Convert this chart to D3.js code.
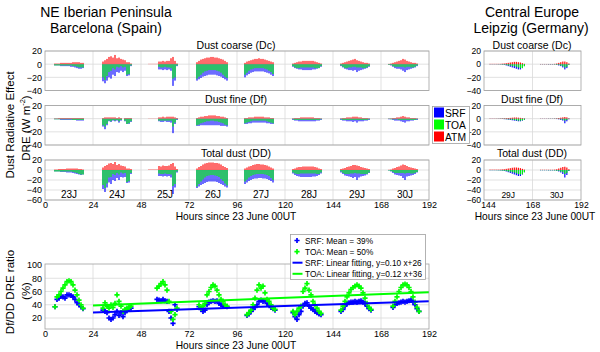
<!DOCTYPE html>
<html>
<head>
<meta charset="utf-8">
<script src="https://cdn.jsdelivr.net/npm/d3@7"></script>
<style>
  body { margin: 0; background: #fff; }
  text { font-family: "Liberation Sans", Arial, sans-serif; fill: #000; }
</style>
</head>
<body>
<svg id="chart" width="600" height="352"></svg>
<script>

//******************************************************************************
//**  Data
//******************************************************************************

  // Barcelona, one bar per hour, first hour of each day in bcnStart
    var bcnDays  = ["23J","24J","25J","26J","27J","28J","29J","30J"];
    var bcnNoon  = [12, 36, 60, 84, 108, 132, 156, 180];
    var bcnStart = [5, 29, 52, 76, 100, 124, 148, 172];

    var bcnDcSRF = [
        [-2,-2,-2,-3,-3,-3,-3,-3,-4,-4,-5,-6,-7,-7,-6],
        [-26,-29,-25,-20,-22,-16,-18,-12,-13,-10,-12,-10,-18,-17,-3],
        [0,0,0,0,0,-8,-8,-9,-8,-9,-8,-10,-33,-25,-3],
        [-25,-23,-21,-19,-18,-17,-16,-16,-16,-16,-17,-18,-19,-21,-23,-25],
        [-20,-17,-15,-13,-12,-11,-11,-11,-11,-11,-12,-13,-14,-16,-18],
        [-4,-6,-7,-8,-8,-9,-9,-9,-9,-9,-8,-8,-7,-6,-4],
        [-3,-5,-7,-8,-9,-9,-10,-9,-12,-10,-9,-8,-7,-6,-4],
        [-1,-2,-4,-6,-7,-7,-8,-10,-12,-9,-8,-7,-6,-5,-3]
    ];
    var bcnDcTOA = [
        [-2,-2,-2,-2,-2,-2,-2,-2,-2,-3,-3,-4,-5,-5,-5],
        [-20,-24,-18,-12,-10,-6,-8,-4,-5,-3,-5,-4,-16,-15,-2],
        [0,0,0,0,0,-4,-5,-5,-4,-5,-5,-6,-22,-20,-2],
        [-22,-19,-16,-13,-11,-10,-9,-9,-9,-9,-10,-11,-13,-16,-19,-21],
        [-16,-13,-10,-8,-7,-6,-6,-6,-6,-6,-7,-8,-10,-12,-15],
        [-3,-5,-6,-6,-5,-5,-5,-5,-5,-5,-5,-6,-6,-6,-3],
        [-2,-4,-6,-6,-5,-5,-4,-4,-5,-5,-5,-6,-6,-5,-3],
        [-1,-1,-3,-4,-4,-4,-4,-4,-5,-4,-4,-5,-5,-4,-2]
    ];
    var bcnDcATM = [
        [1,1,1,2,2,2,2,2,2,3,3,3,3,2,2],
        [4,6,8,11,12,10,14,9,10,8,7,6,3,3,1],
        [0.5,0.5,0.5,0.5,0.5,4,4,5,4,5,5,9,11,5,1],
        [3,5,7,8,9,10,10,11,11,10,10,9,8,7,5,3],
        [2,4,5,6,7,8,8,9,8,8,7,6,5,4,3],
        [1,2,3,4,4,5,5,5,5,5,5,4,3,2,1],
        [1,2,3,4,5,6,7,8,6,5,4,3,2,2,1],
        [0.5,1,2,3,4,5,6,8,7,5,4,3,2,2,1]
    ];

    var bcnDfSRF = [
        [-1,-1,-1,-2,-2,-2,-2,-2,-2,-2,-2,-3,-3,-3,-3],
        [-12,-16,-10,-4,-5,-3,-4,-3,-6,-3,0,-4,-8,-8,-5],
        [0,0,0,0,0,-4,-5,-5,-4,-5,-5,-6,-22,-8,-2],
        [-11,-11,-10,-10,-10,-10,-10,-10,-10,-10,-10,-10,-11,-11,-11,-12],
        [-8,-8,-7,-7,-6,-6,-6,-6,-6,-6,-6,-7,-7,-8,-8],
        [-2,-3,-3,-4,-4,-4,-4,-4,-4,-4,-4,-4,-3,-3,-2],
        [-2,-3,-3,-4,-4,-4,-5,-4,-6,-4,-4,-4,-3,-3,-2],
        [-1,-1,-2,-3,-3,-3,-4,-5,-6,-4,-4,-3,-3,-2,-2]
    ];
    var bcnDfTOA = [
        [-1,-1,-1,-1,-1,-1,-1,-1,-1,-2,-2,-2,-2,-2,-2],
        [-10,-12,-8,-3,-4,-2,-3,-2,-4,-2,0,-3,-8,-7,-4],
        [0,0,0,0,0,-3,-3,-3,-3,-3,-3,-3,-12,-6,-1],
        [-10,-9,-7,-6,-5,-4,-4,-3,-3,-4,-4,-5,-6,-7,-9,-10],
        [-7,-6,-5,-4,-3,-3,-3,-3,-3,-3,-3,-4,-5,-6,-7],
        [-1,-2,-2,-2,-2,-2,-2,-2,-2,-2,-2,-2,-2,-2,-1],
        [-1,-2,-2,-2,-2,-2,-2,-2,-2,-2,-2,-2,-2,-2,-1],
        [-0.5,-1,-1,-1,-1,-2,-2,-2,-2,-2,-2,-2,-2,-2,-1]
    ];
    var bcnDfATM = [
        [0.5,0.5,1,1,1,1,1,1,1,1,1,1,1,1,1],
        [1,2,2,2,2,2,2,1,2,1,0,1,1,1,1],
        [0.3,0.3,0.3,0.3,0.3,2,2,3,2,3,3,3,3,2,1],
        [1,2,3,3,4,4,5,5,5,5,4,4,3,3,2,1],
        [1,1,2,2,2,3,3,3,3,3,2,2,2,1,1],
        [0.5,1,1,1,2,2,2,2,2,2,2,1,1,1,0.5],
        [0.5,1,1,2,2,2,3,3,3,2,2,1,1,1,0.5],
        [0.3,0.5,1,1,2,2,3,4,3,2,2,1,1,1,0.5]
    ];

    var bcnDdSRF = [
        [-3,-3,-3,-4,-4,-4,-5,-5,-5,-6,-7,-8,-9,-10,-9],
        [-38,-44,-35,-25,-28,-20,-22,-16,-20,-14,-15,-14,-26,-25,-8],
        [0,0,0,0,0,-12,-12,-13,-12,-13,-12,-15,-48,-35,-5],
        [-36,-33,-30,-28,-26,-24,-23,-23,-23,-23,-24,-26,-28,-30,-33,-35],
        [-28,-25,-22,-20,-18,-17,-17,-16,-16,-17,-17,-18,-20,-22,-25],
        [-7,-10,-12,-13,-14,-14,-14,-14,-14,-14,-13,-13,-12,-10,-7],
        [-5,-8,-11,-12,-13,-14,-16,-14,-20,-15,-13,-12,-11,-9,-6],
        [-1,-3,-6,-9,-10,-11,-12,-16,-20,-13,-12,-11,-10,-8,-5]
    ];
    var bcnDdTOA = [
        [-3,-3,-3,-3,-3,-3,-3,-3,-3,-4,-5,-6,-8,-9,-9],
        [-30,-36,-27,-15,-14,-8,-10,-6,-9,-5,-7,-6,-24,-22,-6],
        [0,0,0,0,0,-7,-8,-8,-7,-8,-8,-9,-32,-28,-3],
        [-33,-28,-23,-19,-15,-12,-11,-10,-10,-11,-12,-14,-18,-22,-27,-31],
        [-23,-19,-15,-12,-10,-9,-8,-8,-8,-8,-9,-10,-12,-16,-20],
        [-5,-7,-8,-8,-7,-7,-7,-7,-7,-7,-7,-7,-8,-8,-5],
        [-3,-6,-8,-8,-8,-7,-7,-6,-7,-7,-8,-8,-8,-8,-5],
        [-1,-2,-4,-6,-6,-6,-6,-6,-7,-6,-6,-7,-7,-6,-4]
    ];
    var bcnDdATM = [
        [1,1,2,2,2,2,3,3,3,3,3,3,2,2,1],
        [5,8,10,13,14,12,16,10,12,9,8,7,3,3,2],
        [1,1,1,1,1,8,7,9,8,8,9,12,14,7,2],
        [3,6,8,11,13,14,15,15,15,14,14,13,11,8,6,4],
        [3,5,7,8,10,11,12,12,11,11,10,9,7,5,3],
        [2,3,5,6,6,7,7,7,7,7,7,6,5,3,2],
        [2,3,4,6,7,8,10,10,9,8,6,5,4,3,2],
        [0.5,1,3,4,6,7,9,11,10,8,6,5,4,3,2]
    ];

  // Leipzig
    var lpzDays  = ["29J","30J"];
    var lpzNoon  = [156, 180];
    var lpzStart = [147, 172];

    var lpzDcSRF = [
        [-0.3,-0.3,-0.3,-0.3,-0.4,-0.5,-0.8,-1,-2,-3,-4,-5,-6,-7,-8,-8,-6,-3],
        [-0.3,-0.3,-0.3,-0.3,-0.5,-0.5,-0.5,-0.5,-1,-2,-3,-5,-8,-6,-1]
    ];
    var lpzDcTOA = [
        [-0.2,-0.2,-0.2,-0.2,-0.3,-0.4,-0.6,-0.8,-1,-2,-2,-3,-3,-4,-5,-6,-6,-3],
        [-0.2,-0.2,-0.2,-0.2,-0.3,-0.3,-0.3,-0.5,-0.8,-1,-2,-3,-5,-4,-1]
    ];
    var lpzDcATM = [
        [0.5,0.5,0.5,0.5,0.5,0.5,0.8,1,1.5,2,2.5,3,3.5,3.5,3,2.5,1.5,0.5],
        [0.3,0.3,0.3,0.3,0.3,0.3,0.3,0.5,1,2,3,4,4,3,1]
    ];
    var lpzDfSRF = [
        [-0.2,-0.2,-0.2,-0.2,-0.3,-0.4,-0.5,-0.8,-1,-1.5,-2,-2.5,-3,-3.5,-4,-4,-3,-1.5],
        [-0.2,-0.2,-0.2,-0.2,-0.3,-0.3,-0.3,-0.4,-0.6,-1,-2,-3,-7,-4,-1]
    ];
    var lpzDfTOA = [
        [-0.1,-0.1,-0.1,-0.2,-0.2,-0.3,-0.4,-0.5,-0.8,-1,-1.2,-1.5,-2,-2.5,-3,-3,-2.5,-1.5],
        [-0.1,-0.1,-0.1,-0.1,-0.2,-0.2,-0.2,-0.3,-0.4,-0.6,-1,-1.5,-3,-2,-0.5]
    ];
    var lpzDfATM = [
        [0.3,0.3,0.3,0.3,0.3,0.4,0.5,0.6,0.8,1,1.2,1.5,1.8,1.8,1.5,1.2,0.8,0.3],
        [0.2,0.2,0.2,0.2,0.2,0.2,0.2,0.3,0.5,1,1.5,2,2.5,2,0.5]
    ];
    var lpzDdSRF = [
        [-0.5,-0.5,-0.5,-0.5,-0.7,-0.9,-1.3,-1.8,-3,-4.5,-6,-7.5,-9,-10.5,-12,-12,-9,-4.5],
        [-0.5,-0.5,-0.5,-0.5,-0.8,-0.8,-0.8,-0.9,-1.6,-3,-5,-8,-15,-10,-2]
    ];
    var lpzDdTOA = [
        [-0.3,-0.3,-0.3,-0.4,-0.5,-0.7,-1,-1.3,-1.8,-3,-3.2,-4.5,-5,-6.5,-8,-9,-8.5,-4.5],
        [-0.3,-0.3,-0.3,-0.3,-0.5,-0.5,-0.5,-0.8,-1.2,-1.6,-3,-4.5,-8,-6,-1.5]
    ];
    var lpzDdATM = [
        [0.8,0.8,0.8,0.8,0.8,0.9,1.3,1.6,2.3,3,3.7,4.5,5,5,4.5,3.7,2.3,0.8],
        [0.5,0.5,0.5,0.5,0.5,0.5,0.5,0.8,1.5,3,4.5,6,6.5,5,1.5]
    ];

  // Df/DD ratio (%), one point per hour
    var ratioStart = [5, 29, 56, 77, 101, 124, 148, 174];
    var ratioSRF = [
        [37,48,50,53,52,50,55,55,54,52,48,43,40,37,34],
        [32,30,28,20,18,20,25,30,24,28,22,28,32,34,35],
        [48,47,46,48,46,45,30,20,12,40,33],
        [37,33,30,32,40,44,45,46,45,46,42,40,38,38,37],
        [24,26,30,33,36,40,45,47,45,46,42,40,36,34,32],
        [28,22,18,25,30,38,42,43,38,35,33,30,28,26,25],
        [30,33,38,42,43,44,44,45,44,45,46,44,42,38,34,32],
        [36,40,42,43,44,45,44,45,46,47,44,40,34,30]
    ];
    var ratioTOA = [
        [37,52,55,60,65,70,75,76,75,70,62,55,47,40,35],
        [35,43,38,35,40,36,42,55,45,38,30,33,35,36,38],
        [65,68,72,75,70,62,45,30,18,25,35],
        [40,35,38,42,55,60,66,70,68,62,55,48,45,40,38],
        [25,28,32,40,50,62,70,65,68,58,48,45,40,35,33],
        [30,25,30,35,38,60,65,72,62,55,45,40,35,30,27],
        [32,38,45,52,58,63,66,68,70,68,65,58,50,42,36,33],
        [38,45,52,60,66,70,71,70,66,60,52,44,36,30]
    ];
    var fitSRF = [0.10, 26];
    var fitTOA = [0.12, 36];
    var fitHours = [24, 192];

    var hourTicks = [0, 24, 48, 72, 96, 120, 144, 168, 192];


//******************************************************************************
//**  Chart
//******************************************************************************

    var svg = d3.select("#chart");
    var blue = "#0000ff", green = "#00ff00", red = "#ff0000";
    var gridColor = "#d9d9d9", frameColor = "#a0a0a0";
    var barWidth = 1.15;
    var fontFamily = "'Liberation Sans', Arial, sans-serif";

    var xL = d3.scaleLinear().domain([0, 192]).range([45, 429]);
    var xR = d3.scaleLinear().domain([144, 192]).range([484, 581]);

    var rows = [
        {top: 51,    bottom: 90.5, domain: [-40, 20], title: "Dust coarse (Dc)", titleY: 48.5},
        {top: 105.5, bottom: 145,  domain: [-40, 20], title: "Dust fine (Df)",   titleY: 102.5},
        {top: 160,   bottom: 200,  domain: [-60, 20], title: "Total dust (DD)",  titleY: 156.5}
    ];

    var bcnSets = [
        [bcnDcSRF, bcnDcTOA, bcnDcATM],
        [bcnDfSRF, bcnDfTOA, bcnDfATM],
        [bcnDdSRF, bcnDdTOA, bcnDdATM]
    ];
    var lpzSets = [
        [lpzDcSRF, lpzDcTOA, lpzDcATM],
        [lpzDfSRF, lpzDfTOA, lpzDfATM],
        [lpzDdSRF, lpzDdTOA, lpzDdATM]
    ];


  //**************************************************************************
  //** drawPanel
  //**************************************************************************
    var drawPanel = function(x, row, sets, starts, xTicks, fontSize){
        var y = d3.scaleLinear().domain(row.domain).range([row.bottom, row.top]);
        var x0 = x.range()[0], x1 = x.range()[1];
        var g = svg.append("g");

      //Grid
        var yTicks = d3.range(row.domain[0], row.domain[1] + 1, 20);
        g.selectAll(null).data(yTicks).enter().append("line")
            .attr("x1", x0).attr("x2", x1)
            .attr("y1", function(d){ return y(d); })
            .attr("y2", function(d){ return y(d); })
            .attr("stroke", gridColor).attr("stroke-width", 0.8);
        g.selectAll(null).data(xTicks).enter().append("line")
            .attr("x1", function(d){ return x(d); })
            .attr("x2", function(d){ return x(d); })
            .attr("y1", row.top).attr("y2", row.bottom)
            .attr("stroke", gridColor).attr("stroke-width", 0.8);

      //Bars: SRF, then TOA, then ATM on top
        var colors = [blue, green, red];
        sets.forEach(function(set, k){
            var pts = [];
            set.forEach(function(day, d){
                day.forEach(function(v, i){ pts.push({h: starts[d] + i, v: v}); });
            });
            g.selectAll(null).data(pts).enter().append("rect")
                .attr("x", function(p){ return x(p.h) - barWidth/2; })
                .attr("width", barWidth)
                .attr("y", function(p){ return y(Math.max(0, p.v)); })
                .attr("height", function(p){ return Math.abs(y(p.v) - y(0)); })
                .attr("fill", colors[k]);
        });

      //Frame
        g.append("rect")
            .attr("x", x0).attr("y", row.top)
            .attr("width", x1 - x0).attr("height", row.bottom - row.top)
            .attr("fill", "none").attr("stroke", frameColor).attr("stroke-width", 0.8);

      //Y axis labels
        var ax = g.append("g")
            .attr("transform", "translate(" + (x0 - 1) + ",0)")
            .call(d3.axisLeft(y).tickValues(yTicks).tickSize(0).tickPadding(2));
        ax.select(".domain").remove();
        ax.selectAll("text").style("font-size", fontSize + "px").style("font-family", fontFamily);

        return ax;
    };


  //**************************************************************************
  //** Barcelona and Leipzig panels
  //**************************************************************************
    rows.forEach(function(row, r){
        drawPanel(xL, row, bcnSets[r], bcnStart, hourTicks.slice(1, -1), 9);
        svg.append("text").attr("x", 236).attr("y", row.titleY)
            .attr("text-anchor", "middle").style("font-size", "10.5px").text(row.title);
    });

    rows.forEach(function(row, r){
        drawPanel(xR, row, lpzSets[r], lpzStart, [168], 8.6);
        svg.append("text").attr("x", 532).attr("y", row.titleY)
            .attr("text-anchor", "middle").style("font-size", "10.5px").text(row.title);
    });

  //Day labels inside the total dust panels
    svg.selectAll(null).data(bcnDays).enter().append("text")
        .attr("x", function(d, i){ return xL(bcnNoon[i]); })
        .attr("y", 198).attr("text-anchor", "middle")
        .style("font-size", "10px").text(function(d){ return d; });
    svg.selectAll(null).data(lpzDays).enter().append("text")
        .attr("x", function(d, i){ return xR(lpzNoon[i]); })
        .attr("y", 197.5).attr("text-anchor", "middle")
        .style("font-size", "8.5px").text(function(d){ return d; });

  //X axes under the total dust panels
    var addXAxis = function(x, ticks, yPos, labelX, labelY, fontSize){
        var ax = svg.append("g")
            .attr("transform", "translate(0," + yPos + ")")
            .call(d3.axisBottom(x).tickValues(ticks).tickSize(0).tickPadding(1.5));
        ax.select(".domain").remove();
        ax.selectAll("text").style("font-size", fontSize + "px").style("font-family", fontFamily);
        svg.append("text").attr("x", labelX).attr("y", labelY)
            .attr("text-anchor", "middle").style("font-size", "10.2px")
            .text("Hours since 23 June 00UT");
        return ax;
    };
    addXAxis(xL, hourTicks, 200, 236, 219.5, 9);
    var axR = addXAxis(xR, [144, 168, 192], 200.5, 535, 219.5, 8.6);
  //The 144 label sits a little right of its tick, clear of the -60 label
    axR.selectAll(".tick").filter(function(d){ return d === 144; })
        .select("text").attr("dx", 4);

  //Titles
    svg.append("text").attr("x", 106).attr("y", 16.5).attr("text-anchor", "middle")
        .style("font-size", "14px").text("NE Iberian Peninsula");
    svg.append("text").attr("x", 106).attr("y", 32.5).attr("text-anchor", "middle")
        .style("font-size", "14px").text("Barcelona (Spain)");
    svg.append("text").attr("x", 532).attr("y", 16.5).attr("text-anchor", "middle")
        .style("font-size", "14px").text("Central Europe");
    svg.append("text").attr("x", 531).attr("y", 32.5).attr("text-anchor", "middle")
        .style("font-size", "14px").text("Leipzig (Germany)");

  //Y label of the DRE panels
    svg.append("text").attr("transform", "translate(13.5,125) rotate(-90)")
        .attr("text-anchor", "middle").style("font-size", "11.5px")
        .text("Dust Radiative Effect");
    var dre = svg.append("text").attr("transform", "translate(29.5,128) rotate(-90)")
        .attr("text-anchor", "middle").style("font-size", "11.5px");
    dre.append("tspan").text("DRE (W m");
    dre.append("tspan").attr("dy", -4.5).style("font-size", "7.5px").text("-2");
    dre.append("tspan").attr("dy", 4.5).text(")");

  //Bar legend
    var legItems = [["SRF", blue], ["TOA", green], ["ATM", red]];
    svg.append("rect").attr("x", 432.5).attr("y", 106.5).attr("width", 37).attr("height", 37)
        .attr("fill", "#fff").attr("stroke", frameColor).attr("stroke-width", 0.8);
    legItems.forEach(function(it, i){
        svg.append("rect").attr("x", 434).attr("y", 107.5 + i*12)
            .attr("width", 10).attr("height", 10).attr("fill", it[1]);
        svg.append("text").attr("x", 445).attr("y", 116.5 + i*12)
            .style("font-size", "10.3px").text(it[0]);
    });


  //**************************************************************************
  //** Ratio chart
  //**************************************************************************
    var rTop = 264, rBottom = 329;
    var yRatio = d3.scaleLinear().domain([20, 100]).range([318, 265]);
    var gr = svg.append("g");

    gr.selectAll(null).data([20, 40, 60, 80]).enter().append("line")
        .attr("x1", xL(0)).attr("x2", xL(192))
        .attr("y1", function(d){ return yRatio(d); })
        .attr("y2", function(d){ return yRatio(d); })
        .attr("stroke", gridColor).attr("stroke-width", 0.8);
    gr.selectAll(null).data(hourTicks.slice(1, -1)).enter().append("line")
        .attr("x1", function(d){ return xL(d); })
        .attr("x2", function(d){ return xL(d); })
        .attr("y1", rTop).attr("y2", rBottom)
        .attr("stroke", gridColor).attr("stroke-width", 0.8);

    var cross = "M-2.6,0H2.6M0,-2.6V2.6";
    var drawPoints = function(set, color){
        var pts = [];
        set.forEach(function(day, d){
            day.forEach(function(v, i){ pts.push({h: ratioStart[d] + i, v: v}); });
        });
        gr.selectAll(null).data(pts).enter().append("path")
            .attr("d", cross)
            .attr("transform", function(p){ return "translate(" + xL(p.h) + "," + yRatio(p.v) + ")"; })
            .attr("stroke", color).attr("stroke-width", 1.7).attr("fill", "none");
    };
    drawPoints(ratioSRF, blue);
    drawPoints(ratioTOA, green);

    var line = d3.line().x(function(h){ return xL(h); });
    [[fitSRF, blue], [fitTOA, green]].forEach(function(f){
        gr.append("path")
            .attr("d", line.y(function(h){ return yRatio(f[0][0]*h + f[0][1]); })(fitHours))
            .attr("stroke", f[1]).attr("stroke-width", 2).attr("fill", "none");
    });

    gr.append("rect").attr("x", xL(0)).attr("y", rTop)
        .attr("width", xL(192) - xL(0)).attr("height", rBottom - rTop)
        .attr("fill", "none").attr("stroke", frameColor).attr("stroke-width", 0.8);

    var ay = gr.append("g").attr("transform", "translate(" + (xL(0) - 1) + ",0)")
        .call(d3.axisLeft(yRatio).tickValues([20, 40, 60, 80, 100]).tickSize(0).tickPadding(2));
    ay.select(".domain").remove();
    ay.selectAll("text").style("font-size", "9px").style("font-family", fontFamily);

    addXAxis(xL, hourTicks, 329, 236, 348.5, 9);

    svg.append("text").attr("transform", "translate(13.5,292) rotate(-90)")
        .attr("text-anchor", "middle").style("font-size", "11.5px").text("Df/DD DRE ratio");
    svg.append("text").attr("transform", "translate(29.5,291) rotate(-90)")
        .attr("text-anchor", "middle").style("font-size", "11.5px").text("(%)");

  //Ratio legend
    var ratioLeg = [
        ["mark", blue,  "SRF: Mean = 39%"],
        ["mark", green, "TOA: Mean = 50%"],
        ["line", blue,  "SRF: Linear fitting, y=0.10 x+26"],
        ["line", green, "TOA: Linear fitting, y=0.12 x+36"]
    ];
    svg.append("rect").attr("x", 290.5).attr("y", 234.5).attr("width", 135).attr("height", 45)
        .attr("fill", "#fff").attr("stroke", frameColor).attr("stroke-width", 0.8);
    ratioLeg.forEach(function(it, i){
        var cy = 240.5 + i*11.1;
        if (it[0] === "mark"){
            svg.append("path").attr("d", cross)
                .attr("transform", "translate(297," + cy + ")")
                .attr("stroke", it[1]).attr("stroke-width", 1.7).attr("fill", "none");
        }
        else{
            svg.append("line").attr("x1", 292.5).attr("x2", 302.5)
                .attr("y1", cy).attr("y2", cy)
                .attr("stroke", it[1]).attr("stroke-width", 2);
        }
        svg.append("text").attr("x", 305).attr("y", cy + 3)
            .style("font-size", "8.3px").text(it[2]);
    });

</script>
</body>
</html>
